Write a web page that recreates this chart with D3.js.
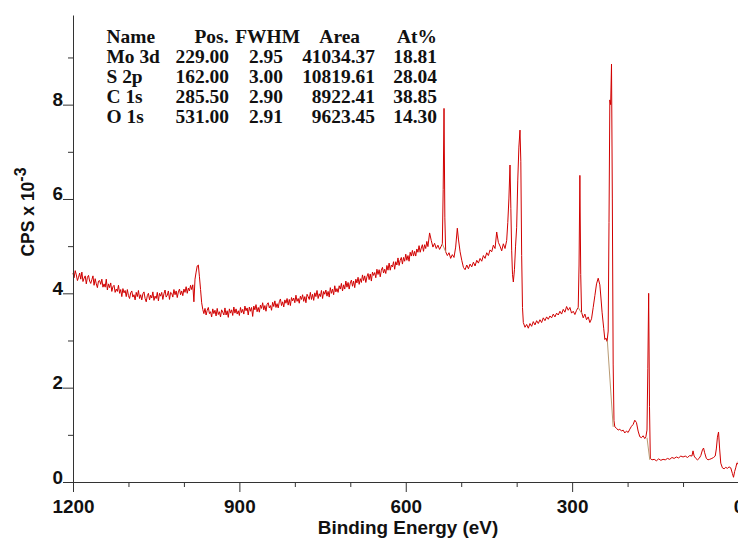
<!DOCTYPE html>
<html>
<head>
<meta charset="utf-8">
<script src="https://cdn.jsdelivr.net/npm/d3@7"></script>
<style>
  body { margin: 0; background: #fff; }
  svg { display: block; }
</style>
</head>
<body>
<svg id="chart" width="738" height="543"></svg>
<script>
// XPS survey spectrum of a MoS2 sample, counts per second x 10^-3.
// High binding-energy part recorded on a 2 eV grid, from 1200 eV down to 560 eV.
const highEnergyStart = 1200;
const highEnergyStep = 2;
const highEnergyCps = [
  4.43,4.33,4.48,4.39,4.27,4.34,4.43,4.30,4.45,4.25,4.32,4.37,4.20,4.34,4.38,4.26,
  4.21,4.29,4.37,4.17,4.31,4.20,4.12,4.26,4.27,4.19,4.30,4.13,4.20,4.13,4.30,4.07,
  4.20,4.12,4.22,4.04,4.14,4.17,4.02,4.09,4.04,4.17,4.00,4.08,3.93,4.10,4.01,4.06,
  3.93,4.08,3.95,3.89,4.01,4.05,3.92,3.97,3.86,4.02,3.93,4.06,3.89,3.97,3.86,3.99,
  4.03,3.89,3.82,3.95,4.00,3.86,3.96,3.90,4.03,3.85,3.94,3.89,4.02,3.84,4.00,3.94,
  4.02,3.87,3.99,4.07,3.92,3.96,4.05,3.87,4.02,4.00,3.92,4.08,3.97,4.05,3.91,4.03,
  4.09,3.97,4.05,3.95,4.09,4.02,4.14,4.00,4.11,4.05,4.17,4.08,4.18,3.82,4.30,4.45,
  4.58,4.60,4.35,4.08,3.80,3.66,3.57,3.68,3.54,3.64,3.70,3.57,3.61,3.50,3.67,3.57,
  3.64,3.52,3.68,3.55,3.61,3.50,3.65,3.60,3.54,3.69,3.54,3.63,3.49,3.67,3.58,3.65,
  3.53,3.71,3.58,3.67,3.56,3.63,3.53,3.70,3.59,3.66,3.56,3.73,3.63,3.69,3.54,3.71,
  3.62,3.70,3.51,3.73,3.65,3.76,3.61,3.70,3.60,3.75,3.68,3.80,3.65,3.74,3.62,3.77,
  3.80,3.69,3.74,3.64,3.81,3.72,3.84,3.70,3.78,3.69,3.82,3.88,3.74,3.82,3.71,3.86,
  3.79,3.89,3.75,3.87,3.74,3.91,3.84,3.90,3.80,3.96,3.83,3.89,3.79,3.94,3.87,3.97,
  3.83,3.93,3.80,3.98,3.93,3.87,4.02,3.87,3.98,3.85,4.01,3.93,4.06,3.89,3.99,3.93,
  4.06,3.89,4.04,3.98,4.07,3.94,4.04,3.92,4.12,4.00,4.09,3.97,4.16,4.03,4.10,4.02,
  4.16,4.09,4.21,4.05,4.18,4.09,4.26,4.13,4.23,4.09,4.22,4.28,4.15,4.26,4.12,4.30,
  4.22,4.34,4.19,4.31,4.23,4.39,4.27,4.37,4.23,4.35,4.42,4.29,4.41,4.26,4.45,4.38,
  4.44,4.33,4.51,4.40,4.50,4.35,4.49,4.55,4.43,4.51,4.42,4.59,4.49,4.64,4.49,4.60,
  4.56,4.67,4.51,4.67,4.60,4.75,4.59,4.70,4.76,4.62,4.76,4.68,4.83,4.70,4.80,4.68,
  4.87,4.79,4.91,4.79,4.89,4.79,4.94,4.87,5.01,4.87,4.96,5.03,4.89,5.03,4.95,5.10,
  4.99
];

// O 1s, O KLL and Mo 3p region: [binding energy (eV), cps x 10^-3]
const oxygenMo3pRegion = [
  [557,5.28],[554,5.12],[551,4.98],[548,5.06],[545,4.95],[542,5.02],[539,4.93],[536,5.00],
  [534,5.05],[532.5,6.20],[531,7.92],[529.5,5.60],[528,4.88],[525,4.80],[522,4.86],[519,4.74],
  [516,4.82],[513,4.76],[510,4.98],[507,5.38],[505,5.15],[502,4.88],[499,4.70],[496,4.55],
  [493,4.50],[490,4.60],[487,4.52],[484,4.62],[481,4.56],[478,4.66],[475,4.58],[472,4.70],
  [469,4.64],[466,4.74],[463,4.68],[460,4.80],[457,4.74],[454,4.86],[451,4.80],[448,4.92],
  [445,4.88],[442,5.02],[439,4.95],[436,5.30],[433,5.08],[430,5.00],[427,4.90],[424,5.05],
  [421,4.95],[418,5.12],[416,5.50],[414,6.00],[412,6.72],[410.5,5.80],[409,4.90],[407.5,4.40],
  [406,4.24],[404,4.50],[402,5.00],[400,5.40],[398,6.40],[396,7.10],[394,7.46],[392.5,6.80],
  [391,4.80],[389.5,3.70],[388,3.38]
];

// C 1s and Mo 3d region
const carbonMo3dRegion = [
  [385,3.28],[382,3.34],[379,3.26],[376,3.36],[373,3.30],[370,3.40],[367,3.33],[364,3.42],
  [361,3.36],[358,3.44],[355,3.38],[352,3.48],[349,3.42],[346,3.50],[343,3.45],[340,3.52],
  [337,3.48],[334,3.56],[331,3.50],[328,3.58],[325,3.54],[322,3.62],[319,3.56],[316,3.66],
  [313,3.60],[310,3.72],[307,3.64],[304,3.70],[301,3.58],[298,3.62],[295,3.55],[292,3.64],
  [289,3.70],[287.5,4.60],[286,6.50],[284.5,4.40],[283,3.60],[280,3.48],[277,3.56],[274,3.44],
  [271,3.50],[268,3.38],[265,3.46],[262,3.70],[259,3.95],[256,4.20],[253,4.32],[250,4.18],
  [248,3.90],[246,3.60],[243,3.25],[241,3.02],[239,3.05],[237,2.98],[235,3.20],[233.5,5.50],
  [232,8.10],[230.5,8.00],[229,8.86],[227.5,6.00],[226,2.50],[224.5,1.30],[223,1.17]
];

// S 2p and valence region
const sulfurValenceRegion = [
  [220,1.14],[217,1.10],[214,1.12],[211,1.08],[208,1.10],[205,1.04],[202,1.08],[199,1.05],
  [196,1.12],[193,1.18],[190,1.22],[187,1.31],[184,1.26],[181,1.08],[178,0.96],[175,0.94],
  [172,0.98],[169,0.92],[167,0.96],[165,1.10],[163.5,2.40],[162,4.00],[160.5,1.60],[159,0.50],
  [156,0.47],[152,0.48],[148,0.45],[144,0.49],[140,0.46],[136,0.48],[132,0.47],[128,0.50],
  [124,0.48],[120,0.52],[116,0.50],[112,0.53],[108,0.51],[104,0.55],[100,0.53],[96,0.55],
  [92,0.52],[88,0.56],[84,0.55],[82,0.66],[80,0.55],[77,0.50],[74,0.47],[71,0.50],
  [68,0.56],[65,0.68],[63,0.72],[61,0.62],[58,0.50],[55,0.47],[52,0.48],[48,0.50],
  [45,0.52],[42,0.55],[40,0.70],[38,0.95],[36,1.06],[34,0.70],[32,0.40],[29,0.30],
  [26,0.28],[23,0.31],[20,0.29],[17,0.32],[14,0.30],[11,0.18],[9,0.10],[7,0.22],
  [5,0.30],[3,0.40],[1,0.38],[0,0.45]
];

// Shirley background segments under the fitted peaks
const backgroundSegments = [
  [[534,5.05],[528,4.88]],
  [[289,3.70],[283,3.58]],
  [[236.5,3.00],[226,1.17]],
  [[165,0.94],[160,0.47]]
];

// Quantification table
const tableHeader = ["Name", "Pos.", "FWHM", "Area", "At%"];
const peakNames = ["Mo 3d", "S 2p", "C 1s", "O 1s"];
const peakPos = ["229.00", "162.00", "285.50", "531.00"];
const peakFwhm = ["2.95", "3.00", "2.90", "2.91"];
const peakArea = ["41034.37", "10819.61", "8922.41", "9623.45"];
const peakAtPct = ["18.81", "28.04", "38.85", "14.30"];

// Axis ticks
const xMajorTicks = [1200, 900, 600, 300, 0];
const xMinorTicks = [1100, 1000, 800, 700, 500, 400, 200, 100];
const yMajorTicks = [0, 2, 4, 6, 8];
const yMinorTicks = [1, 3, 5, 7, 9];

const highEnergyRegion = highEnergyCps.map((v, i) => [highEnergyStart - i * highEnergyStep, v]);
const spectrum = highEnergyRegion.concat(oxygenMo3pRegion, carbonMo3dRegion, sulfurValenceRegion);

const svg = d3.select("#chart");
const x = d3.scaleLinear().domain([1200, 0]).range([73, 738.5]);
const y = d3.scaleLinear().domain([0, 9.9]).range([482, 15]);

const sansFont = "'Liberation Sans', Arial, sans-serif";
const serifFont = "'Liberation Serif', 'Times New Roman', serif";
const stretch = "scale(1.08,1)";
const axisColor = "#333";

// spectrum trace
const line = d3.line().x(d => x(d[0])).y(d => y(d[1]));
svg.append("path")
  .datum(spectrum)
  .attr("d", line)
  .attr("fill", "none")
  .attr("stroke", "#d10000")
  .attr("stroke-width", 1)
  .attr("stroke-linejoin", "round");

// backgrounds drawn over the trace
svg.selectAll("path.bg")
  .data(backgroundSegments)
  .join("path")
  .attr("class", "bg")
  .attr("d", line)
  .attr("fill", "none")
  .attr("stroke", "#b99a72")
  .attr("stroke-width", 1);

// x axis
const xAxisG = svg.append("g").attr("transform", `translate(0,${y(0)})`);
xAxisG.append("g")
  .call(d3.axisBottom(x).tickValues(xMinorTicks).tickSize(5).tickSizeOuter(0).tickFormat(""))
  .call(g => g.select(".domain").remove());
xAxisG.append("g")
  .call(d3.axisBottom(x).tickValues(xMajorTicks).tickSize(10).tickSizeOuter(0).tickFormat(d3.format("d")))
  .call(g => g.selectAll("text")
    .attr("y", 0).attr("dy", 0)
    .attr("transform", `translate(0,31) ${stretch}`)
    .attr("font-family", sansFont).attr("font-weight", "bold").attr("font-size", 17.5)
    .attr("fill", "#111"));
xAxisG.selectAll("line, path").attr("stroke", axisColor);

// y axis
const yAxisG = svg.append("g").attr("transform", `translate(${x(1200)},0)`);
yAxisG.append("g")
  .call(d3.axisLeft(y).tickValues(yMinorTicks).tickSize(5).tickSizeOuter(0).tickFormat(""))
  .call(g => g.select(".domain").remove());
yAxisG.append("g")
  .call(d3.axisLeft(y).tickValues(yMajorTicks).tickSize(10).tickSizeOuter(0).tickFormat(d3.format("d")))
  .call(g => g.selectAll("text")
    .attr("x", 0).attr("dy", 0)
    .attr("transform", `translate(-10,1) ${stretch}`)
    .attr("font-family", sansFont).attr("font-weight", "bold").attr("font-size", 17.5)
    .attr("fill", "#111"));
yAxisG.selectAll("line, path").attr("stroke", axisColor);

// axis titles
svg.append("text")
  .attr("transform", `translate(408,534) ${stretch}`)
  .attr("text-anchor", "middle")
  .attr("font-family", sansFont).attr("font-weight", "bold").attr("font-size", 17.5)
  .attr("fill", "#111")
  .text("Binding Energy (eV)");

const yTitle = svg.append("text")
  .attr("transform", "translate(34,212) rotate(-90)")
  .attr("text-anchor", "middle")
  .attr("font-family", sansFont).attr("font-weight", "bold").attr("font-size", 17.5)
  .attr("fill", "#111");
yTitle.append("tspan").text("CPS x 10");
yTitle.append("tspan").attr("dy", -8).attr("font-size", 16).text("-3");

// quantification table
const headerX = [106.5, 228.5, 300, 360, 437];
const headerAnchor = ["start", "end", "end", "end", "end"];
const valueX = [106.5, 229, 283, 375, 437];
const table = svg.append("g")
  .attr("font-family", serifFont).attr("font-weight", "bold").attr("font-size", 18)
  .attr("fill", "#111");
tableHeader.forEach((h, i) => {
  table.append("text")
    .attr("transform", `translate(${headerX[i]},43) ${stretch}`)
    .attr("text-anchor", headerAnchor[i])
    .text(h);
});
peakNames.forEach((name, r) => {
  const row = [name, peakPos[r], peakFwhm[r], peakArea[r], peakAtPct[r]];
  row.forEach((v, i) => {
    table.append("text")
      .attr("transform", `translate(${valueX[i]},${63 + r * 20}) ${stretch}`)
      .attr("text-anchor", headerAnchor[i])
      .text(v);
  });
});
</script>
</body>
</html>
